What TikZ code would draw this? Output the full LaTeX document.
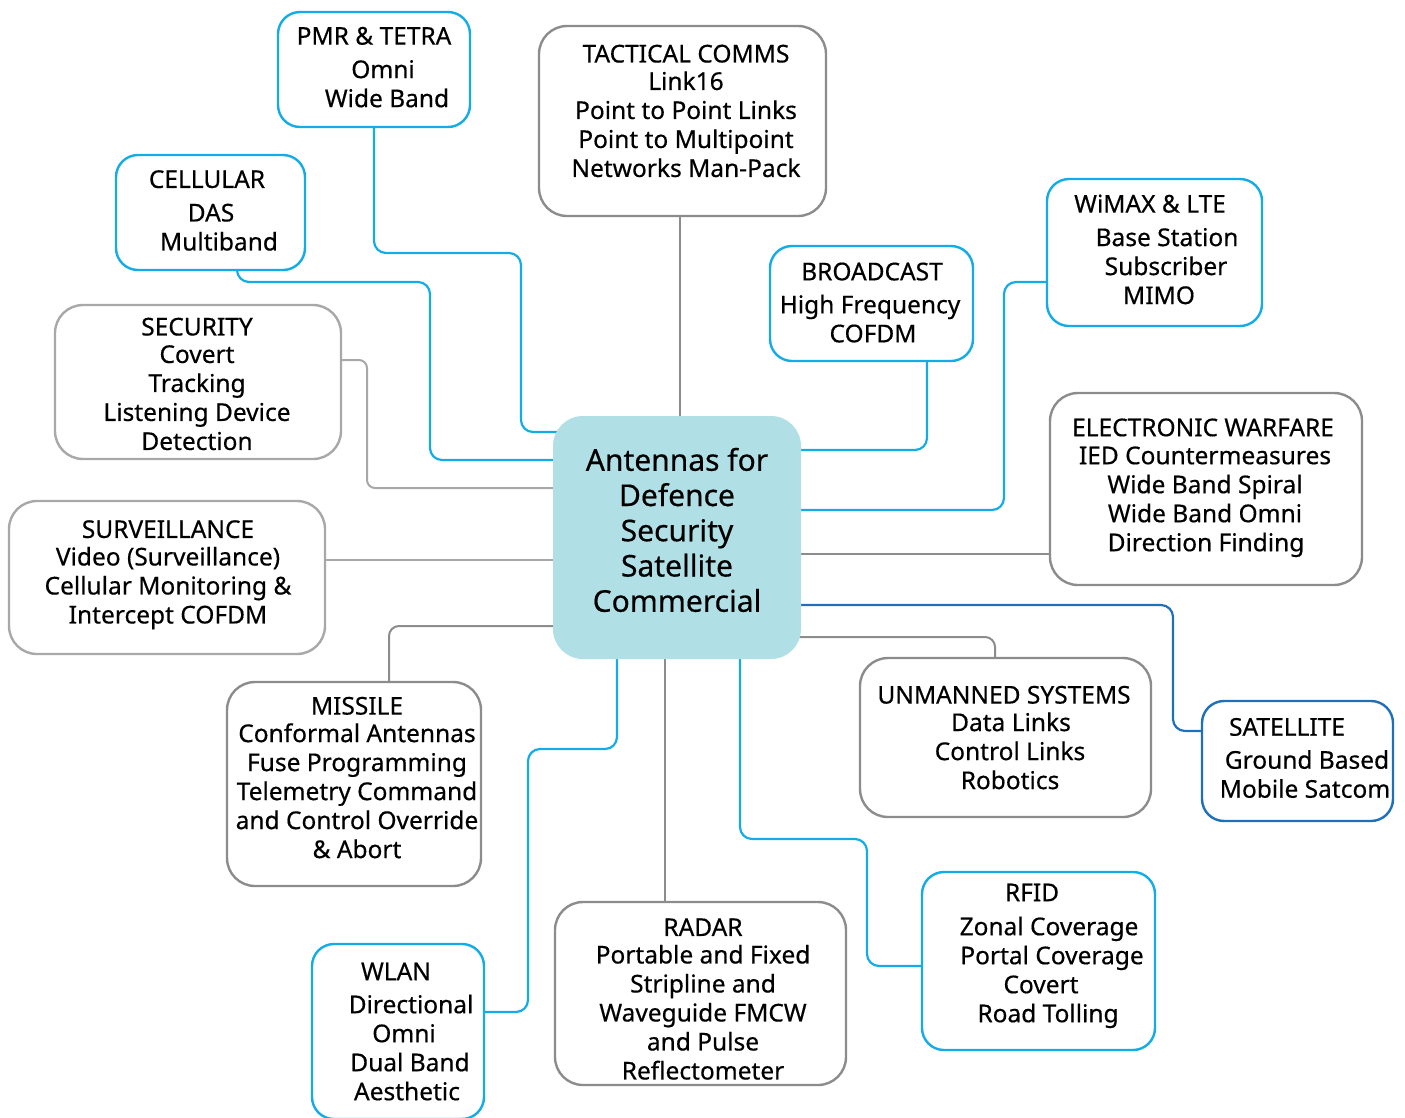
\documentclass[tikz,border=0pt]{standalone}
\usepackage{fontspec}
\setmainfont{Noto Sans}[FakeBold=0.45]
\usetikzlibrary{backgrounds}
\definecolor{cblue}{RGB}{20,172,230}
\definecolor{csat}{RGB}{30,112,186}
\definecolor{cgray}{RGB}{140,140,140}
\definecolor{cgrayl}{RGB}{168,168,168}
\definecolor{chub}{RGB}{176,223,229}
\newcommand\Lx[2]{\makebox[0pt]{\strut\hspace*{#1pt}\hspace*{#1pt}#2}}
\begin{document}
\begin{tikzpicture}[x=1pt,y=-1pt,
  bbox/.style={draw=cblue, line width=2.4pt, rounded corners=22pt, fill=white, inner sep=0pt},
  gbox/.style={draw=cgray, line width=2.4pt, rounded corners=28pt, fill=white, inner sep=0pt},
  lbox/.style={draw=cgrayl, line width=2.4pt, rounded corners=28pt, fill=white, inner sep=0pt},
  txt/.style={align=center, inner sep=0pt, yshift=-0.5pt, font=\fontsize{24.5}{29}\selectfont},
  bconn/.style={draw=cblue, line width=2.2pt, rounded corners=12pt},
  gconn/.style={draw=cgray, line width=2pt, rounded corners=10pt},
  lconn/.style={draw=cgrayl, line width=2pt, rounded corners=8pt}]
\useasboundingbox (0,0) rectangle (1405,1117);

% hub
\node[fill=chub, rounded corners=30pt, minimum width=248pt, minimum height=243pt, inner sep=0pt] (hub) at (677,537.5) {};
\node[align=center, inner sep=0pt, font=\fontsize{30}{35.25}\selectfont] (hubt) at (677,534.2)
  {\Lx{0}{Antennas for}\\\Lx{0}{Defence}\\\Lx{0}{Security}\\\Lx{0}{Satellite}\\\Lx{0}{Commercial}};

% boxes
\node[bbox, minimum width=192pt, minimum height=115pt] (pmr) at (374,69.5) {};
\node[bbox, minimum width=189pt, minimum height=115pt] (cell) at (210.5,212.5) {};
\node[lbox, minimum width=286pt, minimum height=154pt] (sec) at (198,382) {};
\node[lbox, minimum width=316pt, minimum height=153pt] (surv) at (167,577.5) {};
\node[gbox, minimum width=254pt, minimum height=204pt] (mis) at (354,784) {};
\node[bbox, minimum width=172pt, minimum height=175pt] (wlan) at (398,1031.5) {};
\node[gbox, minimum width=291pt, minimum height=183pt] (radar) at (700.5,993.5) {};
\node[bbox, minimum width=233pt, minimum height=178pt] (rfid) at (1038.5,961) {};
\node[gbox, minimum width=291pt, minimum height=159pt] (uns) at (1005.5,737.5) {};
\node[bbox, draw=csat, minimum width=191pt, minimum height=120pt] (sat) at (1297.5,761) {};
\node[gbox, minimum width=312pt, minimum height=192pt] (ew) at (1206,489) {};
\node[bbox, minimum width=215pt, minimum height=147pt] (wimax) at (1154.5,252.5) {};
\node[bbox, minimum width=203pt, minimum height=115pt] (bc) at (871.5,303.5) {};
\node[gbox, minimum width=287pt, minimum height=190pt] (tac) at (682.5,121) {};

% texts
\node[txt] (pmrt) at (374,69.6) {\Lx{0}{PMR \& TETRA}\\[4.5pt]\Lx{9}{Omni}\\\Lx{13}{Wide Band}};
\node[txt] (cellt) at (207,212.9) {\Lx{0}{CELLULAR}\\[4.5pt]\Lx{4}{DAS}\\\Lx{12}{Multiband}};
\node[txt] (sect) at (197,386.4) {\Lx{0}{SECURITY}\\[-1.5pt]\Lx{0}{Covert}\\\Lx{0}{Tracking}\\\Lx{0}{Listening Device}\\\Lx{0}{Detection}};
\node[txt] (survt) at (168,574.4) {\Lx{0}{SURVEILLANCE}\\[-1.5pt]\Lx{0}{Video (Surveillance)}\\\Lx{0}{Cellular Monitoring \&}\\\Lx{0}{Intercept COFDM}};
\node[txt] (mist) at (357,780) {\Lx{0}{MISSILE}\\[-1.5pt]\Lx{0}{Conformal Antennas}\\\Lx{0}{Fuse Programming}\\\Lx{0}{Telemetry Command}\\\Lx{0}{and Control Override}\\\Lx{0}{\& Abort}};
\node[txt] (wlant) at (396,1033.9) {\Lx{0}{WLAN}\\[4pt]\Lx{15}{Directional}\\\Lx{8}{Omni}\\\Lx{14}{Dual Band}\\\Lx{11}{Aesthetic}};
\node[txt] (radart) at (703,1001.4) {\Lx{0}{RADAR}\\[-1.5pt]\Lx{0}{Portable and Fixed}\\\Lx{0}{Stripline and}\\\Lx{0}{Waveguide FMCW}\\\Lx{0}{and Pulse}\\\Lx{0}{Reflectometer}};
\node[txt] (rfidt) at (1032,955.4) {\Lx{0}{RFID}\\[5pt]\Lx{17}{Zonal Coverage}\\\Lx{20}{Portal Coverage}\\\Lx{9}{Covert}\\\Lx{16}{Road Tolling}};
\node[txt] (unst) at (1004,740) {\Lx{0}{UNMANNED SYSTEMS}\\[-1.5pt]\Lx{7}{Data Links}\\\Lx{6}{Control Links}\\\Lx{6}{Robotics}};
\node[txt] (satt) at (1287,760.4) {\Lx{0}{SATELLITE}\\[4pt]\Lx{20}{Ground Based}\\\Lx{18}{Mobile Satcom}};
\node[txt] (ewt) at (1203,487.4) {\Lx{0}{ELECTRONIC WARFARE}\\[-1pt]\Lx{2}{IED Countermeasures}\\\Lx{2}{Wide Band Spiral}\\\Lx{2}{Wide Band Omni}\\\Lx{3}{Direction Finding}};
\node[txt] (wimaxt) at (1150,252) {\Lx{0}{WiMAX \& LTE}\\[4.5pt]\Lx{17}{Base Station}\\\Lx{16}{Subscriber}\\\Lx{9}{MIMO}};
\node[txt] (bct) at (872,305) {\Lx{0}{BROADCAST}\\[4pt]\Lx{-2}{High Frequency}\\\Lx{1}{COFDM}};
\node[txt] (tact) at (686,113.4) {\Lx{0}{TACTICAL COMMS}\\[-1.5pt]\Lx{0}{Link16}\\\Lx{0}{Point to Point Links}\\\Lx{0}{Point to Multipoint}\\\Lx{0}{Networks Man-Pack}};

% connectors
\begin{pgfonlayer}{background}
\draw[bconn] (pmr.south) |- (521,253) |- (hub.center |- 0,432);
\draw[bconn] (237,0 |- cell.south) |- (430,282) |- (hub.center |- 0,460);
\draw[lconn] (sec.east |- 0,360) -| (367,488) -- (hub.center |- 0,488);
\draw[lconn] (surv.east |- 0,560) -- (hub.center |- 0,560);
\draw[gconn] (389,0 |- mis.north) |- (hub.center |- 0,626);
\draw[bconn] (wlan.east |- 0,1012) -| (528,749) -| (617,0 |- hub.center);
\draw[gconn] (665,0 |- radar.north) -- (665,0 |- hub.center);
\draw[bconn] (rfid.west |- 0,966) -| (867,839) -| (740,0 |- hub.center);
\draw[gconn] (995,0 |- uns.north) |- (hub.center |- 0,637);
\draw[bconn, draw=csat] (sat.west |- 0,731) -| (1173,605) -- (hub.center |- 0,605);
\draw[gconn] (ew.west |- 0,554) -- (hub.center |- 0,554);
\draw[bconn] (wimax.west |- 0,282) -| (1004,510) -- (hub.center |- 0,510);
\draw[bconn] (927,0 |- bc.south) |- (hub.center |- 0,450);
\draw[gconn] (680,0 |- tac.south) -- (680,0 |- hub.center);
\end{pgfonlayer}
\end{tikzpicture}
\end{document}
